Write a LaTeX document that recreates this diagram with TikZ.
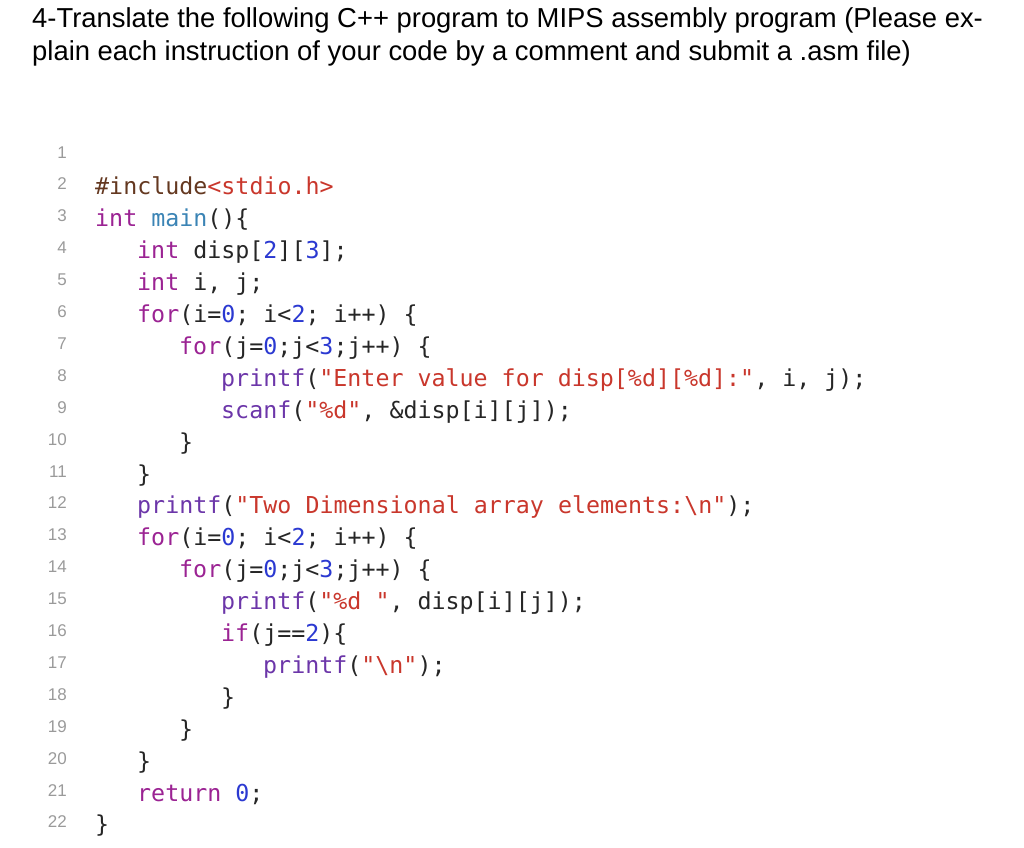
\documentclass[tikz,border=0pt]{standalone}
\usepackage{fontspec}
\setmainfont{Liberation Sans}
\newfontfamily\cmono{DejaVu Sans Mono}
\definecolor{kw}{HTML}{9B2393}
\definecolor{fn}{HTML}{3B84B5}
\definecolor{num}{HTML}{2B39D1}
\definecolor{str}{HTML}{C9372C}
\definecolor{inc}{HTML}{643820}
\definecolor{lib}{HTML}{6C36A9}
\definecolor{txt}{HTML}{262626}
\definecolor{lno}{HTML}{9A9A9A}
\newcommand{\ckw}[1]{\textcolor{kw}{#1}}
\newcommand{\cfn}[1]{\textcolor{fn}{#1}}
\newcommand{\cnum}[1]{\textcolor{num}{#1}}
\newcommand{\cstr}[1]{\textcolor{str}{#1}}
\newcommand{\clib}[1]{\textcolor{lib}{#1}}
\begin{document}
\begin{tikzpicture}[x=1pt,y=-1pt,
  code/.style={anchor=base west,inner sep=0pt,font=\cmono\fontsize{23.3}{26}\selectfont,text=txt},
  lnum/.style={anchor=base east,inner sep=0pt,font=\fontsize{17}{19}\selectfont,text=lno},
  ttl/.style={anchor=base west,inner sep=0pt,font=\fontsize{27.4}{30}\selectfont,text=black}]
\useasboundingbox (0,0) rectangle (1024,847);
\node[ttl] (t1) at (32,27) {4-Translate the following C++ program to MIPS assembly program (Please ex-};
\node[ttl] (t2) at (32,60) {plain each instruction of your code by a comment and submit a .asm file)};
\foreach \n in {1,...,22}{
  \node[lnum] (n\n) at (67,{158+(\n-1)*31.9}) {\n};
}
\def\lbase#1{{163+(#1-1)*31.9}}
\node[code] (c2) at (95,\lbase{2}) {\textcolor{inc}{\#include}\cstr{<stdio.h>}};
\node[code] (c3) at (95,\lbase{3}) {\ckw{int} \cfn{main}()\{};
\node[code] (c4) at (137,\lbase{4}) {\ckw{int} disp[\cnum{2}][\cnum{3}];};
\node[code] (c5) at (137,\lbase{5}) {\ckw{int} i, j;};
\node[code] (c6) at (137,\lbase{6}) {\ckw{for}(i=\cnum{0}; i<\cnum{2}; i++) \{};
\node[code] (c7) at (179,\lbase{7}) {\ckw{for}(j=\cnum{0};j<\cnum{3};j++) \{};
\node[code] (c8) at (221,\lbase{8}) {\clib{printf}(\cstr{"Enter value for disp[\%d][\%d]:"}, i, j);};
\node[code] (c9) at (221,\lbase{9}) {\clib{scanf}(\cstr{"\%d"}, \&disp[i][j]);};
\node[code] (c10) at (179,\lbase{10}) {\}};
\node[code] (c11) at (137,\lbase{11}) {\}};
\node[code] (c12) at (137,\lbase{12}) {\clib{printf}(\cstr{"Two Dimensional array elements:\textbackslash n"});};
\node[code] (c13) at (137,\lbase{13}) {\ckw{for}(i=\cnum{0}; i<\cnum{2}; i++) \{};
\node[code] (c14) at (179,\lbase{14}) {\ckw{for}(j=\cnum{0};j<\cnum{3};j++) \{};
\node[code] (c15) at (221,\lbase{15}) {\clib{printf}(\cstr{"\%d "}, disp[i][j]);};
\node[code] (c16) at (221,\lbase{16}) {\ckw{if}(j==\cnum{2})\{};
\node[code] (c17) at (263,\lbase{17}) {\clib{printf}(\cstr{"\textbackslash n"});};
\node[code] (c18) at (221,\lbase{18}) {\}};
\node[code] (c19) at (179,\lbase{19}) {\}};
\node[code] (c20) at (137,\lbase{20}) {\}};
\node[code] (c21) at (137,\lbase{21}) {\ckw{return} \cnum{0};};
\node[code] (c22) at (95,\lbase{22}) {\}};
\end{tikzpicture}
\end{document}
